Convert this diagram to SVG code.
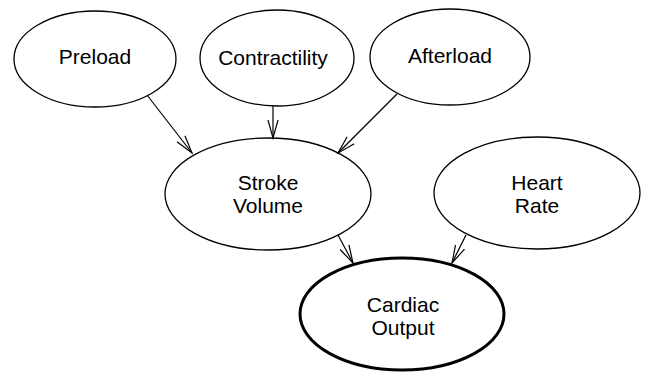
<svg xmlns="http://www.w3.org/2000/svg" width="647" height="373" viewBox="0 0 647 373">
<style>
.n{fill:#fff;stroke:#000;stroke-width:1.3}
.b{fill:#fff;stroke:#000;stroke-width:3}
.t{font-family:"Liberation Sans",Arial,sans-serif;font-size:21px;text-anchor:middle;fill:#000}
.c{stroke:#000;stroke-width:1.2;fill:none;marker-end:url(#ah)}
</style>
<defs>
<marker id="ah" markerUnits="userSpaceOnUse" markerWidth="20" markerHeight="20" refX="18" refY="10" orient="auto" viewBox="0 0 20 20">
<path d="M0,5 L18,10 L0,15" fill="none" stroke="#000" stroke-width="1.2"/>
</marker>
</defs>
<rect width="647" height="373" fill="#fff"/>
<g id="preload"><ellipse class="n" cx="95" cy="59" rx="81" ry="48"/><text class="t" x="95" y="64">Preload</text></g>
<g id="contractility"><ellipse class="n" cx="277" cy="58" rx="77" ry="48"/><text class="t" x="273" y="65">Contractility</text></g>
<g id="afterload"><ellipse class="n" cx="450" cy="57" rx="80" ry="48"/><text class="t" x="450" y="63">Afterload</text></g>
<g id="stroke-volume"><ellipse class="n" cx="268" cy="194" rx="103" ry="56"/><text class="t" x="268" y="190">Stroke</text><text class="t" x="268" y="213">Volume</text></g>
<g id="heart-rate"><ellipse class="n" cx="537" cy="193" rx="103" ry="56"/><text class="t" x="537" y="190">Heart</text><text class="t" x="537" y="213">Rate</text></g>
<g id="cardiac-output"><ellipse class="b" cx="402" cy="314" rx="102" ry="56"/><text class="t" x="403" y="312">Cardiac</text><text class="t" x="403" y="335">Output</text></g>
<g id="connectors">
<line class="c" x1="147" y1="95" x2="192" y2="153"/>
<line class="c" x1="273" y1="106" x2="273" y2="138"/>
<line class="c" x1="397" y1="94" x2="338" y2="153"/>
<line class="c" x1="338" y1="235" x2="353" y2="263"/>
<line class="c" x1="466" y1="235" x2="452" y2="263"/>
</g>
</svg>
